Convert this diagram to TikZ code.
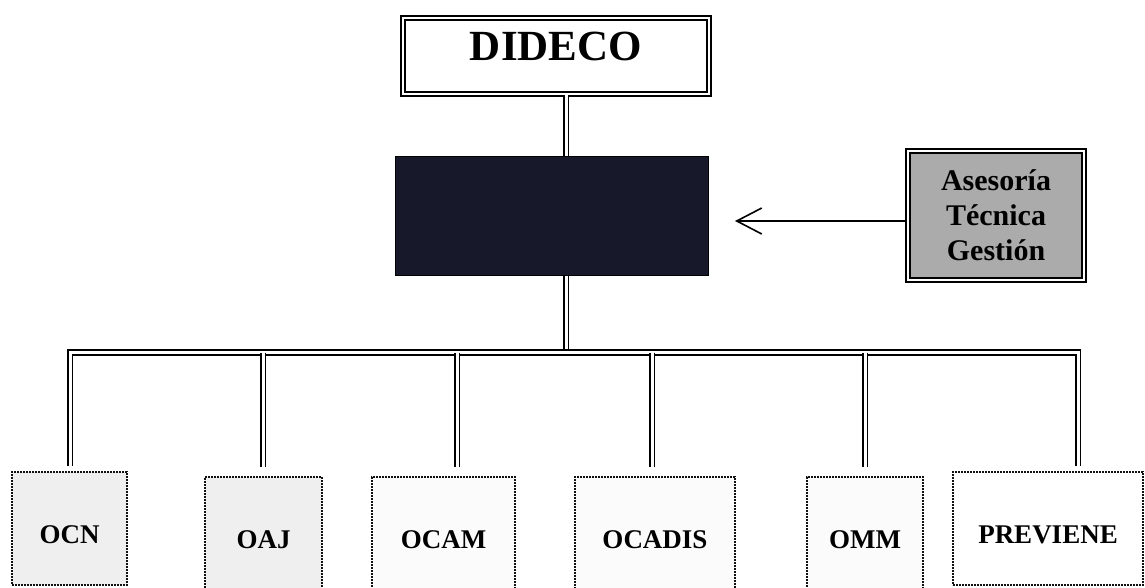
\documentclass[tikz,border=0pt]{standalone}
\usepackage{fontspec}
\setmainfont{Liberation Serif}
\usetikzlibrary{arrows.meta}
\definecolor{darkbox}{HTML}{17182A}
\definecolor{grayfill}{HTML}{ABABAB}
\definecolor{lightfill}{HTML}{EFEFEF}
\definecolor{paleFill}{HTML}{FBFBFB}
\definecolor{dotcol}{HTML}{111111}
\tikzset{
  dblline/.style={draw=black, line width=1.9pt, double=white, double distance=3pt},
  dblbox/.style={draw=black, line width=1.8pt, double=white, double distance=2.6pt, inner sep=0pt},
  lowbox/.style={draw=dotcol, line width=2pt, dash pattern=on 1.6pt off 1.4pt, inner sep=0pt,
    font=\fontsize{27}{32}\selectfont\bfseries, text height=18pt, text depth=0pt, minimum height=125pt},
}
\begin{document}
\begin{tikzpicture}[x=1pt,y=-1pt]
\useasboundingbox (0,0) rectangle (1145,588);
\clip (0,0) rectangle (1145,588);
% top boxes
\node[dblbox, minimum width=306pt, minimum height=76pt, fill=white,
  font=\fontsize{43}{48}\selectfont\bfseries, text height=28pt, text depth=18pt] (dideco) at (556,56) {DIDECO};
\node[draw=black, line width=1pt, fill=darkbox, minimum width=313pt, minimum height=118pt] (dark) at (551.5,216) {};
\node[dblbox, minimum width=176pt, minimum height=129pt, fill=grayfill, align=center,
  font=\fontsize{30}{35}\selectfont\bfseries] (asesoria) at (996,215.5) {Asesoría\\Técnica\\Gestión};
% bottom boxes
\node[lowbox, fill=lightfill, minimum width=115pt, minimum height=113pt, text height=30pt] (ocn) at (69.5,528.5) {OCN};
\node[lowbox, fill=lightfill, minimum width=117pt] (oaj) at (263.5,539.5) {OAJ};
\node[lowbox, fill=paleFill, minimum width=143pt] (ocam) at (443.5,539.5) {OCAM};
\node[lowbox, fill=paleFill, minimum width=160pt] (ocadis) at (655,539.5) {OCADIS};
\node[lowbox, fill=paleFill, minimum width=116pt] (omm) at (865,539.5) {OMM};
\node[lowbox, fill=white, minimum width=190pt, minimum height=113pt, text height=30pt] (previene) at (1048,528.5) {PREVIENE};
% coordinates
\coordinate (stem) at (566,352.5);
\coordinate (b1) at (70,352.5);
\coordinate (b2) at (263,352.5);
\coordinate (b3) at (457,352.5);
\coordinate (b4) at (652,352.5);
\coordinate (b5) at (865,352.5);
\coordinate (b6) at (1078,352.5);
\coordinate (tip) at (735,221);
% connectors
\draw[dblline] (stem |- dideco.south) -- (stem |- dark.north);
\draw[dblline] (stem |- dark.south) -- (stem);
\draw[dblline, shorten <=5pt, shorten >=5pt] (b1 |- ocn.north) -- (b1) -- (b6) -- (b6 |- previene.north);
\draw[dblline, shorten >=9pt] (b2) -- (b2 |- oaj.north);
\draw[dblline, shorten >=9pt] (b3) -- (b3 |- ocam.north);
\draw[dblline, shorten >=9pt] (b4) -- (b4 |- ocadis.north);
\draw[dblline, shorten >=9pt] (b5) -- (b5 |- omm.north);
\draw[line width=1.6pt, -{Straight Barb[length=25pt,width=26pt,line width=1.6pt]}] (tip -| asesoria.west) -- (tip);
\end{tikzpicture}
\end{document}
